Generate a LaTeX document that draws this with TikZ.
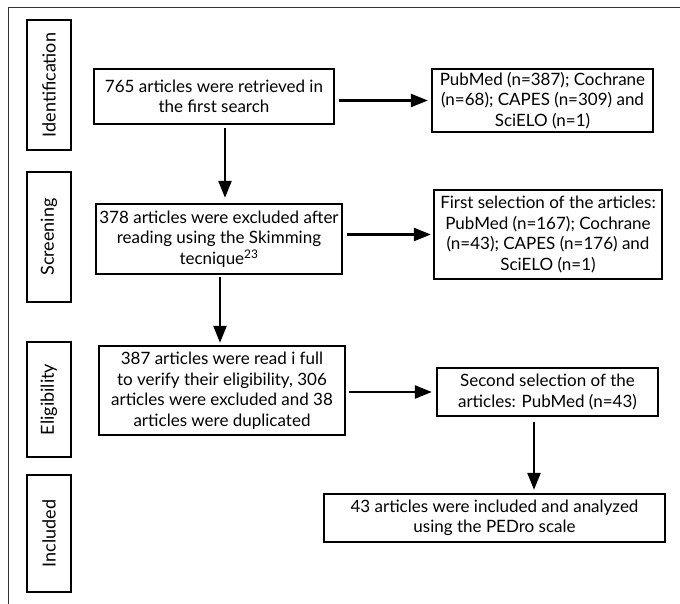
\documentclass[tikz,border=0pt]{standalone}
\usepackage{fontspec}
\setmainfont{Lato}
\usetikzlibrary{positioning,arrows.meta}
\tikzstyle{squared} = [rectangle, draw=black, line width=2.3pt, align=center, inner sep=1pt, text centered, font=\fontsize{17}{20.5}\selectfont]
\tikzstyle{stage} = [rectangle, draw=black, line width=2.3pt, rotate=90, minimum height=44pt, font=\fontsize{18}{20.5}\selectfont]
\tikzstyle{connect} = [line width=2.3pt,-{Triangle[length=17pt,width=13pt]}]

\begin{document}
\begin{tikzpicture}[x=1pt,y=-1pt]
			\useasboundingbox (0,0) rectangle (680,604);
			\draw [line width=1pt,black!80] (8,604) -- (8,8) -- (680,8);
			%-----------------------------------------------
			\node (ident) [stage,minimum width=130pt] at (49,85) {Identification};
			\node (screen) [stage,minimum width=130pt] at (49,237) {Screening};
			\node (elig) [stage,minimum width=115pt] at (49,399.5) {Eligibility};
			\node (incl) [stage,minimum width=117pt] at (49,533.5) {Included};
			%-----------------------------------------------
			\node (retrieved) [squared,minimum width=240pt,minimum height=55pt] at (214,96.5) {765 articles were retrieved in\\the first search};
			\node (databases) [squared,minimum width=221pt,minimum height=63pt] at (542.5,100.5) {PubMed (n=387); Cochrane\\(n=68); CAPES (n=309) and\\SciELO (n=1)};
			%-----------------------------------------------
			\node (skimming) [squared,minimum width=246pt,minimum height=70pt] at (219,239) {378 articles were excluded after\\reading using the Skimming\\tecnique\textsuperscript{23}};
			\node (firstsel) [squared,minimum width=228pt,minimum height=89pt] at (548,234.5) {First selection of the articles:\\PubMed (n=167); Cochrane\\(n=43); CAPES (n=176) and\\SciELO (n=1)};
			%-----------------------------------------------
			\node (fullread) [squared,minimum width=246pt,minimum height=89pt] at (222,390.5) {387 articles were read i full\\to verify their eligibility, 306\\articles were excluded and 38\\articles were duplicated};
			\node (secondsel) [squared,minimum width=221pt,minimum height=48pt] at (547.5,392) {Second selection of the\\articles: PubMed (n=43)};
			%-----------------------------------------------
			\node (included) [squared,minimum width=341pt,minimum height=48pt] at (494.5,518) {43 articles were included and analyzed\\using the PEDro scale};

			%-----------------------------------------------
			%-----------------------------------------------

			\draw [connect,shorten <=4pt,shorten >=3pt] (retrieved.east |- databases.west) -- (databases.west);
			\draw [connect,shorten <=3pt,shorten >=5pt] ([xshift=11pt]retrieved.south) -- ([xshift=11pt]retrieved.south |- skimming.north);
			\draw [connect,shorten <=4pt,shorten >=2pt] (skimming.east |- firstsel.west) -- (firstsel.west);
			\draw [connect,shorten <=2pt,shorten >=2pt] ([xshift=1pt]skimming.south) -- ([xshift=1pt]skimming.south |- fullread.north);
			\draw [connect,shorten <=3pt,shorten >=4pt] (fullread.east |- secondsel.west) -- (secondsel.west);
			\draw [connect,shorten <=5pt,shorten >=3pt] ([xshift=-13.5pt]secondsel.south) -- ([xshift=-13.5pt]secondsel.south |- included.north);
\end{tikzpicture}
\end{document}
